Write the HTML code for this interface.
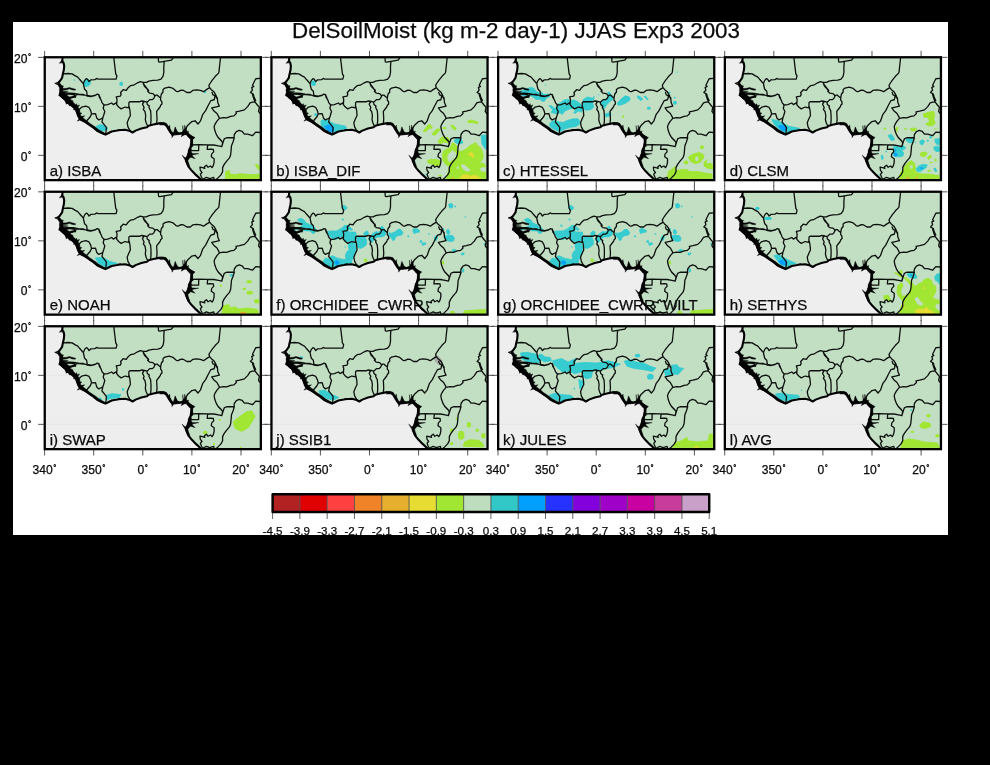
<!DOCTYPE html>
<html><head><meta charset="utf-8"><title>DelSoilMoist</title>
<style>
html,body{margin:0;padding:0;background:#000;}
body{width:990px;height:765px;overflow:hidden;position:relative;font-family:"Liberation Sans",sans-serif;}
#paper{position:absolute;left:13px;top:22px;width:935px;height:513px;background:#fff;overflow:hidden;}
svg{position:absolute;left:-13px;top:-22px;}
text{font-family:"Liberation Sans",sans-serif;fill:#0a0a0a;stroke:#0a0a0a;stroke-width:0.25px;}
.lab{font-size:15.0px;}
.tk{font-size:12.1px;}
.cb{font-size:11.6px;}
</style></head><body><div id="paper">
<svg width="990" height="765" viewBox="0 0 990 765" style="will-change:transform;opacity:0.999">
<defs>
<clipPath id="box"><rect x="0" y="0" width="216.1" height="122.9"/></clipPath>
<clipPath id="landclip"><path d="M17.89,-0.33 L17.64,2.1 L17.64,4.12 L18.78,5.49 L19.42,8.56 L19.1,12.6 L18.13,16.64 L17.32,20.68 L15.22,23.76 L13.77,25.37 L14.09,26.83 L14.9,28.28 L16.35,29.57 L17.48,31.35 L16.19,32.81 L16.51,34.58 L15.38,36.04 L15.06,37.33 L15.62,38.22 L18.05,40.48 L20.23,42.26 L21.85,44.93 L23.46,45.65 L26.53,47.92 L29.6,50.66 L31.22,52.28 L32.84,56.64 L34.45,60.52 L36.23,62.46 L40.27,64.56 L44.31,67.31 L48.35,70.22 L52.39,73.45 L56.43,75.55 L60.63,77.33 L62.9,76.2 L66.94,74.26 L70.98,73.45 L75.83,72.81 L73.1,72.97 L80.37,72.56 L85.22,73.78 L87.81,75.23 L90.88,73.37 L96.53,71.35 L102.19,70.06 L103.97,68.52 L108.65,67.31 L114.31,66.1 L119.16,66.1 L121.58,67.71 L124.01,71.35 L125.79,74.58 L127.24,76.85 L127.34,77.45 L128.96,76.64 L131.38,75.19 L134.61,76.4 L137.85,75.59 L140.27,73.82 L142.29,75.59 L145.12,78.42 L148.51,80.52 L147.22,81.65 L146.73,86.34 L145.93,90.38 L144.47,93.61 L143.99,96.85 L144.07,96.24 L143.26,98.42 L142.13,100.85 L141.48,103.92 L143.91,109.57 L147.14,113.61 L151.18,117.65 L155.62,121.69 L157.24,123.71 L157.24,125.9 L219.1,125.9 L219.1,-3 L17.89,-3Z"/></clipPath>
<path id="land" d="M17.89,-0.33 L17.64,2.1 L17.64,4.12 L18.78,5.49 L19.42,8.56 L19.1,12.6 L18.13,16.64 L17.32,20.68 L15.22,23.76 L13.77,25.37 L14.09,26.83 L14.9,28.28 L16.35,29.57 L17.48,31.35 L16.19,32.81 L16.51,34.58 L15.38,36.04 L15.06,37.33 L15.62,38.22 L18.05,40.48 L20.23,42.26 L21.85,44.93 L23.46,45.65 L26.53,47.92 L29.6,50.66 L31.22,52.28 L32.84,56.64 L34.45,60.52 L36.23,62.46 L40.27,64.56 L44.31,67.31 L48.35,70.22 L52.39,73.45 L56.43,75.55 L60.63,77.33 L62.9,76.2 L66.94,74.26 L70.98,73.45 L75.83,72.81 L73.1,72.97 L80.37,72.56 L85.22,73.78 L87.81,75.23 L90.88,73.37 L96.53,71.35 L102.19,70.06 L103.97,68.52 L108.65,67.31 L114.31,66.1 L119.16,66.1 L121.58,67.71 L124.01,71.35 L125.79,74.58 L127.24,76.85 L127.34,77.45 L128.96,76.64 L131.38,75.19 L134.61,76.4 L137.85,75.59 L140.27,73.82 L142.29,75.59 L145.12,78.42 L148.51,80.52 L147.22,81.65 L146.73,86.34 L145.93,90.38 L144.47,93.61 L143.99,96.85 L144.07,96.24 L143.26,98.42 L142.13,100.85 L141.48,103.92 L143.91,109.57 L147.14,113.61 L151.18,117.65 L155.62,121.69 L157.24,123.71 L157.24,125.9 L219.1,125.9 L219.1,-3 L17.89,-3Z"/>
<g id="lines" fill="none" stroke="#0c100c" stroke-linejoin="round" stroke-linecap="round"><path d="M18.13,16.64 L23.3,16.24 L27.34,16.64 L30.57,18.66 L33,19.88 L35.02,22.3 L37.85,25.53 L38.65,26.34 M38.65,26.34 L39.87,23.11 L41.48,21.49 L42.69,21.9 L44.31,24.32 L45.93,22.7 L49.97,22.3 L52.39,21.09 L53.2,21.9 L71.38,21.9 L72.19,18.66 L70.98,16.64 L70.01,8.56 L68.96,-0.33 M38.65,26.34 L39.06,28.77 L39.87,32 L41.89,34.02 L42.29,36.85 L42.69,38.87 M42.69,38.87 L45.93,39.27 L49.97,38.46 L52.39,36.85 L54.01,37.65 L55.62,40.89 L54.01,37.25 L54.82,40.48 L56.43,42.91 L57.24,45.33 L59.26,47.76 M42.69,38.87 L38.65,37.25 L33.81,36.85 L28.96,36.04 L22.49,35.63 L17,35.07 M22.49,35.8 L29.77,37.65 L30.57,40.08 L31.38,37.25 L30.57,39.67 L25.72,40.64 L22.49,42.91 M31.38,37.25 L34.61,37.41 L41.89,38.06 L46.73,38.87 L50.78,37.9 M33.81,52.77 L37.04,49.78 L41.08,48.97 L44.31,50.18 L45.93,53.41 L46.73,56.64 L45.52,59.47 L42.29,63.27 M46.73,56.64 L50.78,56.48 L51.99,60.68 L54.01,62.7 L56.43,61.49 L58.05,60.68 M58.05,60.68 L57.24,64.72 L59.66,67.55 L61.68,70.38 L61.28,74.42 L60.63,77.01 M58.05,60.68 L58.86,58.26 L60.07,54.22 L58.45,50.99 L59.26,47.76 M59.26,47.76 L62.9,47.35 L66.94,45.73 L68.55,47.35 L71.79,45.33 M71.89,47.35 L72.29,42.1 L71.48,39.67 L75.52,38.87 L76.33,37.25 L75.83,35.23 L78.25,32.81 L78.25,32.4 L81.48,33.21 L83.1,30.79 L85.93,28.36 L88.76,27.96 L92.8,25.53 L95.62,24.32 L98.45,25.13 M98.45,25.13 L101.68,25.13 L104.11,23.92 L108.15,23.11 L113,22.95 L116.23,21.9 L118.25,19.07 L119.06,15.03 L119.06,9.37 L119.46,4.12 M113.48,-0.33 L113.81,4.52 L115.02,4.93 L119.46,4.12 L126.73,2.91 L129,-0.33 M98.45,25.13 L99.66,28.36 L102.09,31.59 L103.95,33.61 L98.48,26.25 L99.69,29.08 L101.71,31.1 L103.73,32.71 L102.93,34.13 L104.95,35.95 L108.18,36.35 L109.39,37.56 L110.2,38.78 M110.2,38.78 L108.99,41.2 L107.37,42.41 L104.95,42.41 L103.33,44.03 L102.12,44.84 L99.69,44.23 L96.87,43.62 L95.25,44.43 M110.2,38.78 L111.41,37.77 L112.62,37.97 L114.24,39.58 L115.86,40.8 M115.86,40.8 L116.26,38.37 L116.66,36.76 L118.28,34.73 L118.28,32.31 L120.3,30.69 L120.27,30.79 L124.31,29.98 L128.35,31.19 L131.58,34.02 L133.2,34.42 L136.43,32.81 L138.86,33.21 L142.09,35.23 L145.52,35.23 L147.95,33.21 L151.99,32.56 L155.62,33.21 L158.86,34.42 L161.68,32.4 L164.51,30.62 M115.86,40.8 L115.86,42.82 L117.07,44.43 L117.27,46.86 L115.86,48.07 L115.52,49.37 L114.31,50.99 L111.89,54.22 L112.29,61.49 L111.89,66.34 M71.89,47.35 L73.91,49.78 L76.33,51.63 L80.37,49.78 L84.01,50.58 M84.01,50.58 L84.17,45.33 L85.22,44.52 L90.07,44.52 L94.92,44.52 L96.94,43.71 L98.96,44.93 M84.01,50.58 L84.41,49.37 L85.22,53.41 L85.62,58.26 L84.01,61.49 L82.39,65.53 L83.2,69.57 L85.22,73.37 M98.96,44.93 L97.74,46.95 L99.36,50.18 L98.55,52.2 L100.17,54.22 L100.98,58.26 L100.57,62.3 L101.38,65.53 L103,68.93 M102.12,44.84 L102.52,47.26 L104.54,48.88 L104.21,50.18 L105.83,53.41 L106.23,58.26 L106.23,63.92 L105.83,67.31 M175.83,-0.33 L175.02,6.95 L174.21,14.62 L173.81,15.84 L170.57,19.07 L167.34,23.11 L164.92,26.74 L164.11,28.36 L164.92,30.38 M164.92,30.38 L166.94,32.81 L169.36,34.83 L170.57,36.85 L171.38,38.46 L172.19,41.29 L172.59,40.48 L173,45.33 L174.61,48.97 L170.57,49.78 L166.94,50.58 L168.96,53.41 L172.19,56.24 L173.81,59.07 L174.61,61.09 M167.34,35.23 L168.15,37.65 L170.17,38.46 L169.77,41.29 L170.57,38.87 M140.67,72 L143.1,67.96 L147.14,64.32 L150.37,63.51 L153.2,66.74 L155.62,63.92 L158.05,57.05 L160.88,53.41 L163.3,48.56 L166.13,43.31 L169.36,42.5 L170.57,38.87 M215.18,21.09 L210.98,21.49 L209.36,24.72 L207.74,27.96 L208.96,29.17 L206.94,30.38 L207.74,32.81 L205.72,35.23 L208.55,36.85 L209.36,40.08 L210.98,43.23 L207.74,37.25 L208.96,41.29 L210.17,44.52 M174.61,61.09 L178.65,60.28 L181.89,60.68 L185.93,59.07 L189.16,58.66 L191.58,56.24 L191.18,54.62 L194.82,53.82 L199.66,52.6 L202.9,49.37 L205.32,45.73 L207.74,44.93 L210.17,44.52 M210.17,44.52 L212.59,47.76 L214.61,50.18 L213.81,54.22 L215.18,56 M174.61,61.09 L172.19,63.92 L170.17,67.15 L169.36,69.57 L170.17,73.61 L171.79,77.65 L173.81,80.89 L176.23,83.23 L173,79.67 L176.23,82.91 L177.85,85.33 L177.04,89.37 M215.18,75.23 L210.98,74.83 L207.74,78.46 L202.9,76.85 L199.66,76.85 L197.24,74.02 L194.41,73.21 L191.58,74.42 L189.56,77.25 L189.16,80.89 L189.56,80.48 M177.04,89.37 L178.25,85.33 L179.46,81.69 L181.89,80.48 L185.93,80.32 L189.56,80.48 M189.56,80.48 L188.35,84.52 L186.73,88.56 L186.33,93.41 L185.93,97.45 L184.71,100.68 L181.89,103.92 L179.46,107.15 L177.85,110.38 L177.85,114.42 L176.23,117.65 L173,120.89 L170.98,122.5 M146.33,87.76 L154.01,87.35 L162.9,87.59 L168.96,87.76 L173.81,88.56 L177.04,89.37 M154.01,87.35 L153.85,93.41 L146.33,93.41 M162.9,87.59 L162.49,92.2 L166.13,91.8 L168.55,92.2 L168.96,94.62 L166.94,96.64 L166.53,99.47 L169.36,101.49 L169.36,105.13 L168.55,108.36 L167.34,110.38 L165.72,108.77 L163.3,109.98 L161.68,107.96 L159.66,109.57 L160.07,111.19 L157.64,110.38 L155.22,109.98 L155.62,113.21 L157.24,115.23 L155.62,116.85 L156.43,119.27 L157.64,121.53 M158.86,121.53 L161.68,120.08 L164.92,121.29 L168.96,120.08 L169.36,121.86" stroke-width="1.3"/><path d="M17.89,-0.33 L17.64,2.1 L17.64,4.12 L18.78,5.49 L19.42,8.56 L19.1,12.6 L18.13,16.64 L17.32,20.68 L15.22,23.76 L13.77,25.37 L14.09,26.83 L14.9,28.28 L16.35,29.57 L17.48,31.35 L16.19,32.81 L16.51,34.58 L15.38,36.04 L15.06,37.33 L15.62,38.22 L18.05,40.48 L20.23,42.26 L21.85,44.93 L23.46,45.65 L26.53,47.92 L29.6,50.66 L31.22,52.28 L32.84,56.64 L34.45,60.52 L36.23,62.46 L40.27,64.56 L44.31,67.31 L48.35,70.22 L52.39,73.45 L56.43,75.55 L60.63,77.33 L62.9,76.2 L66.94,74.26 L70.98,73.45 L75.83,72.81 L73.1,72.97 L80.37,72.56 L85.22,73.78 L87.81,75.23 L90.88,73.37 L96.53,71.35 L102.19,70.06 L103.97,68.52 L108.65,67.31 L114.31,66.1 L119.16,66.1 L121.58,67.71 L124.01,71.35 L125.79,74.58 L127.24,76.85 L127.34,77.45 L128.96,76.64 L131.38,75.19 L134.61,76.4 L137.85,75.59 L140.27,73.82 L142.29,75.59 L145.12,78.42 L148.51,80.52 L147.22,81.65 L146.73,86.34 L145.93,90.38 L144.47,93.61 L143.99,96.85 L144.07,96.24 L143.26,98.42 L142.13,100.85 L141.48,103.92 L143.91,109.57 L147.14,113.61 L151.18,117.65 L155.62,121.69 L157.24,123.71" stroke-width="2.1" stroke="#000"/><path d="M10.32,26.25 L13.35,27.77 L14.87,30.8 L14.61,33.32 L15.12,36.35 L13.86,38.37 L16.38,39.38 L18.4,41.91 L20.42,42.92 L21.43,44.94 L21.18,46.96 L23.45,45.95 L24.46,48.47 L27.49,48.47 L29.51,51 L28.76,52.77 L31.03,52.51 L30.91,53.3 L31.92,56.33 L32.93,59.36 L34.44,61.38 L32.42,63.91 L35.45,62.64 L38.99,64.41 L42.52,66.43 L45.55,68.96 L48.58,70.47 L51.61,73.5 L55.65,75.52 L59.19,77.24 L60.45,76.33 L58.48,75.02 L53.94,72.49 L50.96,70.02 L47.93,68 L44.9,65.98 L42.78,64.01 L40,61.89 L37.98,60.37 L40,58.6 L36.97,59.11 L35.45,57.85 L36.97,55.83 L34.95,55.32 L35.2,53.3 L33.94,52.29 L32.93,49.77 L34.56,52.51 L33.05,50.49 L34.82,47.71 L32.29,48.47 L32.04,46.45 L30.78,47.46 L29.51,45.95 L28.5,44.94 L28,43.42 L25.98,42.41 L25.47,41.15 L27.49,40.64 L29.51,39.89 L30.02,38.37 L27.49,38.88 L24.97,39.63 L22.44,38.62 L22.44,37.61 L26.99,37.11 L30.52,36.7 L30.52,36.1 L23.45,36.35 L20.42,36.1 L17.9,35.34 L17.39,34.58 L23.45,34.33 L18.4,33.83 L17.9,33.07 L22.44,32.56 L24.46,31.55 L27.49,32.71 L30.52,32.97 L30.93,32.06 L28,31.2 L24.46,30.19 L21.94,31.05 L18.4,31.3 L17.9,29.79 L18.91,28.78 L16.89,28.27 L15.37,26.25Z M115.25,67.83 L119.29,67.83 L121.31,69.34 L123.33,72.88 L125.35,75.91 L127.37,77.93 L127.12,80.45 L128.89,77.93 L131.92,77.67 L134.95,77.17 L137.47,76.92 L136.46,79.44 L139.49,77.67 L141.51,77.42 L142.52,78.94 L144.54,80.45 L146.06,82.47 L146.06,89.24 L148.08,89.24 L147.83,82.47 L147.57,80.96 L150.1,80.45 L147.57,78.94 L145.05,77.42 L142.78,76.41 L144.04,73.89 L142.02,74.39 L141.51,69.34 L140.76,72.37 L140,67.83 L139.74,72.12 L138.48,72.88 L137.98,68.33 L138.23,73.89 L136.97,75.4 L134.95,75.65 L132.93,74.9 L131.66,72.37 L130.4,69.59 L129.39,73.38 L128.63,75.4 L126.87,74.39 L125.35,71.36 L124.85,67.83 L123.84,69.85 L122.32,67.32 L121.31,65.81 L118.28,65.55 L115.25,65.3Z M143.89,80.25 L145.91,82.27 L145.91,85.3 L145.15,89.34 L143.63,92.37 L143.13,95.4 L142.37,97.93 L141.61,99.95 L140.35,100.45 L137.32,97.93 L139.85,101.97 L141.36,105.5 L142.88,109.24 L145.15,109.24 L143.89,106.01 L143.13,102.98 L144.9,100.96 L145.91,99.95 L150.45,101.46 L147.93,98.94 L147.42,97.67 L153.99,96.41 L147.42,96.16 L146.41,94.39 L146.92,92.88 L145.91,90.35 L147.17,88.33 L147.67,85.3 L147.93,82.27 L149.95,80.25Z M14.73,5.82 L17,3.07 L18.61,5.33Z M10.37,25.94 L13.77,24.56 L14.25,27.15Z" fill="#000" stroke="#000" stroke-width="0.4" stroke-linejoin="miter"/></g>
</defs>
<text x="516" y="37.7" text-anchor="middle" style="font-size:22.4px" id="title">DelSoilMoist (kg m-2 day-1) JJAS Exp3 2003</text>
<g transform="translate(44.75,57.25)">
<path d="M-0.15,-6.3V0 M-0.15,122.9V129.20000000000002 M48.95,-6.3V0 M48.95,122.9V129.20000000000002 M98.05,-6.3V0 M98.05,122.9V129.20000000000002 M147.15,-6.3V0 M147.15,122.9V129.20000000000002 M196.25,-6.3V0 M196.25,122.9V129.20000000000002 M-6.6,0.1H0 M216.1,0.1H222.7 M-6.6,49.1H0 M216.1,49.1H222.7 M-6.6,98.1H0 M216.1,98.1H222.7" stroke="#444" stroke-width="0.9" fill="none"/>
<rect x="0" y="0" width="216.1" height="122.9" fill="#EEEEEE"/>
<g clip-path="url(#box)">
<use href="#land" fill="#C2DFC4"/>
<g clip-path="url(#landclip)">
<path d="M38.14,25.97 L40.92,22.64 L43.14,21.86 L45.36,23.75 L45.69,26.53 L43.69,28.75 L40.36,29.31Z" fill="#36CCD0" stroke="#36CCD0" stroke-width="0.8" stroke-linejoin="round"/>
<ellipse cx="76.47" cy="26.64" rx="1.89" ry="2.11" fill="#36CCD0"/>
<ellipse cx="29.69" cy="22.86" rx="0.67" ry="0.78" fill="#36CCD0"/>
<path d="M51.47,69.19 L54.81,67.31 L59.25,68.08 L62.58,69.75 L62.81,71.97 L59.81,73.64 L55.92,73.64 L52.58,71.42Z" fill="#36CCD0" stroke="#36CCD0" stroke-width="0.8" stroke-linejoin="round"/>
<ellipse cx="160.03" cy="34.69" rx="1.44" ry="1.28" fill="#36CCD0"/>
<path d="M180.58,121.42 L181.14,114.19 L184.47,113.08 L185.03,116.42 L189.47,117.53 L195.03,116.42 L201.69,116.97 L207.25,117.53 L215.03,116.64 L215.03,121.42Z" fill="#A0E632" stroke="#A0E632" stroke-width="0.8" stroke-linejoin="round"/>
<path d="M210.58,107.53 L212.81,107.31 L215.03,109.19 L215.03,112.53 L212.81,111.42Z" fill="#A0E632" stroke="#A0E632" stroke-width="0.8" stroke-linejoin="round"/>
</g>
<text class="lab" x="4.9" y="118.6">a) ISBA</text>
<use href="#lines"/>
</g>
<rect x="0" y="0" width="216.1" height="122.9" fill="none" stroke="#000" stroke-width="2.3"/>
</g>
<g transform="translate(271.45,57.25)">
<path d="M-0.15,-6.3V0 M-0.15,122.9V129.20000000000002 M48.95,-6.3V0 M48.95,122.9V129.20000000000002 M98.05,-6.3V0 M98.05,122.9V129.20000000000002 M147.15,-6.3V0 M147.15,122.9V129.20000000000002 M196.25,-6.3V0 M196.25,122.9V129.20000000000002 M-6.6,0.1H0 M216.1,0.1H222.7 M-6.6,49.1H0 M216.1,49.1H222.7 M-6.6,98.1H0 M216.1,98.1H222.7" stroke="#444" stroke-width="0.9" fill="none"/>
<rect x="0" y="0" width="216.1" height="122.9" fill="#EEEEEE"/>
<g clip-path="url(#box)">
<use href="#land" fill="#C2DFC4"/>
<g clip-path="url(#landclip)">
<ellipse cx="42.11" cy="26.08" rx="2.44" ry="2.78" fill="#36CCD0"/>
<ellipse cx="44.11" cy="57.42" rx="1.56" ry="1.44" fill="#36CCD0"/>
<path d="M49.66,63.31 L54.11,62.19 L62.99,66.64 L74.11,68.86 L75.22,71.53 L67.44,72.86 L61.88,75.53 L54.11,73.31 L49.66,67.75Z" fill="#36CCD0" stroke="#36CCD0" stroke-width="0.8" stroke-linejoin="round"/>
<path d="M52.99,69.31 L56.77,67.75 L61.88,69.97 L61.88,74.42 L56.77,73.75Z" fill="#00A0FF" stroke="#00A0FF" stroke-width="0.8" stroke-linejoin="round"/>
<path d="M151.73,73.93 L156.43,67.81 L158.79,67.34 L161.14,70.63 L157.37,71.57 L153.61,74.87Z" fill="#A0E632" stroke="#A0E632" stroke-width="0.8" stroke-linejoin="round"/>
<path d="M160.67,76.28 L163.02,73.93 L165.84,71.57 L168.67,72.04 L166.79,74.87 L163.96,77.69 L161.14,77.69Z" fill="#A0E632" stroke="#A0E632" stroke-width="0.8" stroke-linejoin="round"/>
<ellipse cx="173.14" cy="70.87" rx="2.12" ry="1.18" fill="#A0E632"/>
<path d="M179.49,67.81 L181.84,68.28 L184.67,71.1 L183.73,72.99 L180.9,71.1Z" fill="#A0E632" stroke="#A0E632" stroke-width="0.8" stroke-linejoin="round"/>
<path d="M195.96,64.04 L199.73,62.63 L204.43,64.04 L206.79,64.99 L206.31,66.4 L201.61,65.46 L196.9,65.46Z" fill="#A0E632" stroke="#A0E632" stroke-width="0.8" stroke-linejoin="round"/>
<path d="M166.31,84.75 L168.67,81.46 L171.02,79.57 L173.37,80.51 L176.2,80.04 L178.08,82.87 L176.2,85.69 L172.43,84.75 L168.67,86.63Z" fill="#A0E632" stroke="#A0E632" stroke-width="0.8" stroke-linejoin="round"/>
<path d="M155.96,103.57 L158.31,102.16 L165.84,102.16 L168.67,103.57 L168.67,107.34 L166.79,109.22 L163.96,108.28 L160.2,106.87 L156.9,105.93Z" fill="#A0E632" stroke="#A0E632" stroke-width="0.8" stroke-linejoin="round"/>
<ellipse cx="168.67" cy="118.35" rx="1.88" ry="0.85" fill="#A0E632"/>
<path d="M174.31,121.46 L176.2,116.75 L178.08,109.22 L174.31,107.34 L171.49,103.57 L171.02,96.99 L172.43,93.22 L176.2,91.34 L179.02,90.4 L179.96,86.63 L182.79,85.69 L185.61,89.46 L186.08,92.28 L187.49,94.16 L191.26,93.69 L195.02,91.34 L199.73,87.57 L204.43,85.22 L206.31,88.51 L209.14,90.4 L211.02,94.16 L211.96,99.81 L210.08,103.57 L208.2,105.46 L212.9,106.4 L214.31,109.22 L214.31,121.46Z" fill="#A0E632" stroke="#A0E632" stroke-width="0.8" stroke-linejoin="round"/>
<path d="M176.2,99.81 L177.14,96.99 L180.9,93.22 L184.67,96.04 L184.2,99.81 L179.96,103.57 L177.14,104.04Z" fill="#C2DFC4" stroke="#C2DFC4" stroke-width="0.8" stroke-linejoin="round"/>
<path d="M189.84,107.81 L192.2,107.34 L195.96,110.16 L198.79,112.99 L195.02,113.93 L191.26,111.1Z" fill="#C2DFC4" stroke="#C2DFC4" stroke-width="0.8" stroke-linejoin="round"/>
<ellipse cx="186.31" cy="110.4" rx="1.18" ry="1.18" fill="#C2DFC4"/>
<path d="M208.67,111.1 L214.31,110.16 L214.31,113.93 L210.08,113.93Z" fill="#C2DFC4" stroke="#C2DFC4" stroke-width="0.8" stroke-linejoin="round"/>
<path d="M196.9,96.04 L200.67,95.57 L202.08,97.93 L201.61,100.75 L200.2,98.87 L197.37,97.46Z" fill="#E6DC32" stroke="#E6DC32" stroke-width="0.8" stroke-linejoin="round"/>
<path d="M187.96,121.46 L191.26,117.69 L195.02,117.22 L199.73,119.1 L203.49,117.69 L207.26,120.04 L210.08,121.46Z" fill="#E6DC32" stroke="#E6DC32" stroke-width="0.8" stroke-linejoin="round"/>
<ellipse cx="181.37" cy="120.99" rx="1.41" ry="0.66" fill="#E6AF2D"/>
<path d="M182.79,82.87 L185.61,81.46 L189.84,81.93 L191.26,84.75 L190.79,86.16 L185.61,86.16 L183.26,84.75Z" fill="#36CCD0" stroke="#36CCD0" stroke-width="0.8" stroke-linejoin="round"/>
<path d="M209.61,78.16 L214.79,77.69 L214.79,92.28 L212.9,90.4 L210.55,86.63 L210.08,81.93Z" fill="#36CCD0" stroke="#36CCD0" stroke-width="0.8" stroke-linejoin="round"/>
<ellipse cx="155.02" cy="117.46" rx="0.94" ry="0.71" fill="#36CCD0"/>
</g>
<text class="lab" x="4.9" y="118.6">b) ISBA_DIF</text>
<use href="#lines"/>
</g>
<rect x="0" y="0" width="216.1" height="122.9" fill="none" stroke="#000" stroke-width="2.3"/>
</g>
<g transform="translate(498.15,57.25)">
<path d="M-0.15,-6.3V0 M-0.15,122.9V129.20000000000002 M48.95,-6.3V0 M48.95,122.9V129.20000000000002 M98.05,-6.3V0 M98.05,122.9V129.20000000000002 M147.15,-6.3V0 M147.15,122.9V129.20000000000002 M196.25,-6.3V0 M196.25,122.9V129.20000000000002 M-6.6,0.1H0 M216.1,0.1H222.7 M-6.6,49.1H0 M216.1,49.1H222.7 M-6.6,98.1H0 M216.1,98.1H222.7" stroke="#444" stroke-width="0.9" fill="none"/>
<rect x="0" y="0" width="216.1" height="122.9" fill="#EEEEEE"/>
<g clip-path="url(#box)">
<use href="#land" fill="#C2DFC4"/>
<g clip-path="url(#landclip)">
<path d="M22.76,33.66 L28.82,31.84 L32.46,30.02 L36.09,31.23 L37.91,34.27 L41.55,35.48 L43.37,34.87 L45.79,37.3 L50.64,36.69 L51.85,39.11 L48.21,40.93 L46.4,43.96 L43.97,43.96 L41.55,42.14 L37.91,42.14 L34.88,39.72 L31.85,37.9 L31.24,39.72 L27.61,39.11 L23.37,37.9Z" fill="#36CCD0" stroke="#36CCD0" stroke-width="0.8" stroke-linejoin="round"/>
<ellipse cx="47.06" cy="27.78" rx="0.67" ry="0.79" fill="#36CCD0"/>
<path d="M50.64,48.2 L53.67,48.81 L56.7,51.23 L58.52,50.02 L59.73,46.99 L62.76,45.17 L65.79,42.75 L70.03,42.14 L71.85,43.36 L76.09,42.75 L79.73,44.57 L83.37,47.6 L84.58,51.23 L83.37,54.87 L80.33,53.66 L77.3,56.08 L75.49,55.48 L77.91,51.84 L74.88,51.23 L71.24,51.84 L67,53.66 L63.97,57.3 L61.55,55.48 L59.73,56.69 L56.7,56.08 L53.06,55.48 L54.27,52.45Z" fill="#36CCD0" stroke="#36CCD0" stroke-width="0.8" stroke-linejoin="round"/>
<path d="M85.18,42.14 L89.43,39.72 L94.27,40.93 L96.09,39.11 L95.49,42.75 L94.27,44.57 L95.49,50.02 L92.46,52.45 L87.61,53.05 L85.18,51.23 L84.58,45.78Z" fill="#36CCD0" stroke="#36CCD0" stroke-width="0.8" stroke-linejoin="round"/>
<path d="M102.15,45.17 L105.18,42.75 L108.82,40.93 L110.64,38.51 L109.43,35.48 L111.24,34.87 L113.67,38.51 L114.88,42.14 L113.06,43.36 L110.64,45.17 L107.61,48.81 L105.79,51.84 L103.97,48.81Z" fill="#36CCD0" stroke="#36CCD0" stroke-width="0.8" stroke-linejoin="round"/>
<path d="M107,56.69 L112.46,55.23 L112.46,58.51 L107.61,59.72Z" fill="#36CCD0" stroke="#36CCD0" stroke-width="0.8" stroke-linejoin="round"/>
<path d="M119.73,45.78 L123.37,42.14 L127,39.11 L131.24,39.72 L131.85,42.75 L128.21,44.57 L124.58,46.99 L120.33,47.96Z" fill="#36CCD0" stroke="#36CCD0" stroke-width="0.8" stroke-linejoin="round"/>
<path d="M51.24,66.99 L53.67,63.96 L57.3,63.36 L59.73,64.57 L65.18,65.17 L68.82,63.36 L74.88,61.54 L79.73,61.54 L81.55,63.96 L80.94,67.6 L77.3,69.42 L72.46,70.02 L66.4,71.84 L62.76,74.27 L59.73,73.66 L55.49,71.84 L52.46,70.02Z" fill="#36CCD0" stroke="#36CCD0" stroke-width="0.8" stroke-linejoin="round"/>
<ellipse cx="49.12" cy="61.54" rx="0.91" ry="1.21" fill="#7FD6D0"/>
<ellipse cx="100.64" cy="37.48" rx="0.91" ry="0.79" fill="#7FD6D0"/>
<ellipse cx="125.18" cy="59.11" rx="0.85" ry="0.97" fill="#A0E632"/>
<path d="M119.02,45.79 L123.01,41.81 L126.99,38.62 L130.98,40.21 L131.78,42.61 L127.79,45.79 L123.01,47.39 L119.82,47.71Z" fill="#36CCD0" stroke="#36CCD0" stroke-width="0.8" stroke-linejoin="round"/>
<path d="M138.95,38.62 L142.14,39.42 L144.53,41.81 L142.94,43.4 L139.75,41.01Z" fill="#36CCD0" stroke="#36CCD0" stroke-width="0.8" stroke-linejoin="round"/>
<path d="M145.65,39.1 L147.24,38.78 L150.11,41.97 L149.15,42.61Z" fill="#36CCD0" stroke="#36CCD0" stroke-width="0.8" stroke-linejoin="round"/>
<ellipse cx="150.67" cy="50.89" rx="1.83" ry="1.59" fill="#36CCD0"/>
<ellipse cx="176.81" cy="45.39" rx="1.99" ry="1.99" fill="#36CCD0"/>
<ellipse cx="171.23" cy="35.27" rx="1.2" ry="0.96" fill="#36CCD0"/>
<ellipse cx="176.57" cy="40.37" rx="0.96" ry="0.96" fill="#36CCD0"/>
<ellipse cx="178.81" cy="14.87" rx="0.8" ry="0.64" fill="#36CCD0"/>
<ellipse cx="125.0" cy="59.34" rx="1.2" ry="1.12" fill="#A0E632"/>
<path d="M189.97,100 L194.75,96.81 L201.13,95.21 L205.91,97.61 L205.11,101.59 L201.13,105.58 L196.34,106.37 L192.36,103.98Z" fill="#A0E632" stroke="#A0E632" stroke-width="0.8" stroke-linejoin="round"/>
<ellipse cx="198.73" cy="101.59" rx="1.59" ry="2.39" fill="#C2DFC4"/>
<ellipse cx="187.89" cy="105.18" rx="2.39" ry="1.99" fill="#A0E632"/>
<ellipse cx="203.92" cy="90.03" rx="1.99" ry="1.99" fill="#A0E632"/>
<path d="M205.91,104.78 L209.1,102.39 L207.5,106.37 L213.88,106.37 L214.68,111.95 L209.89,111.16 L205.91,108.76Z" fill="#A0E632" stroke="#A0E632" stroke-width="0.8" stroke-linejoin="round"/>
<path d="M169.24,121.52 L170.04,114.34 L174.82,111.16 L177.21,108.76 L177.21,114.34 L180.4,112.75 L188.37,111.95 L191.56,114.34 L199.53,114.34 L207.5,115.94 L213.88,116.74 L213.88,121.52Z" fill="#A0E632" stroke="#A0E632" stroke-width="0.8" stroke-linejoin="round"/>
</g>
<text class="lab" x="4.9" y="118.6">c) HTESSEL</text>
<use href="#lines"/>
</g>
<rect x="0" y="0" width="216.1" height="122.9" fill="none" stroke="#000" stroke-width="2.3"/>
</g>
<g transform="translate(724.85,57.25)">
<path d="M-0.15,-6.3V0 M-0.15,122.9V129.20000000000002 M48.95,-6.3V0 M48.95,122.9V129.20000000000002 M98.05,-6.3V0 M98.05,122.9V129.20000000000002 M147.15,-6.3V0 M147.15,122.9V129.20000000000002 M196.25,-6.3V0 M196.25,122.9V129.20000000000002 M-6.6,0.1H0 M216.1,0.1H222.7 M-6.6,49.1H0 M216.1,49.1H222.7 M-6.6,98.1H0 M216.1,98.1H222.7" stroke="#444" stroke-width="0.9" fill="none"/>
<rect x="0" y="0" width="216.1" height="122.9" fill="#EEEEEE"/>
<g clip-path="url(#box)">
<use href="#land" fill="#C2DFC4"/>
<g clip-path="url(#landclip)">
<path d="M46.93,62.19 L52.48,63.31 L63.59,68.86 L74.71,71.08 L70.26,74.42 L61.37,75.97 L54.71,72.19 L49.15,66.64Z" fill="#36CCD0" stroke="#36CCD0" stroke-width="0.8" stroke-linejoin="round"/>
<path d="M53.59,68.86 L57.37,67.75 L61.82,69.97 L61.37,73.75 L56.48,72.86Z" fill="#00A0FF" stroke="#00A0FF" stroke-width="0.8" stroke-linejoin="round"/>
<path d="M198.13,56.69 L203.49,55.08 L208.86,54.01 L209.93,57.76 L208.86,62.05 L210.46,65.81 L207.78,68.49 L203.49,68.49 L200.81,66.88 L204.57,64.2 L203.49,60.44 L199.2,59.91Z" fill="#A0E632" stroke="#A0E632" stroke-width="0.8" stroke-linejoin="round"/>
<path d="M185.26,71.7 L189.55,70.63 L192.23,71.7 L190.62,73.31 L186.87,73.85Z" fill="#A0E632" stroke="#A0E632" stroke-width="0.8" stroke-linejoin="round"/>
<ellipse cx="180.7" cy="71.7" rx="1.34" ry="0.86" fill="#A0E632"/>
<ellipse cx="160.06" cy="71.33" rx="1.61" ry="0.91" fill="#A0E632"/>
<path d="M171.11,70.42 L173.25,70.1 L172.61,73.31 L171.32,74.39Z" fill="#A0E632" stroke="#A0E632" stroke-width="0.8" stroke-linejoin="round"/>
<ellipse cx="210.73" cy="71.54" rx="2.41" ry="0.7" fill="#B4E27A"/>
<path d="M195.45,95.83 L199.2,94.76 L202.42,95.83 L200.81,98.51 L197.6,99.59 L195.45,97.98Z" fill="#A0E632" stroke="#A0E632" stroke-width="0.8" stroke-linejoin="round"/>
<path d="M202.42,100.12 L205.64,97.98 L206.71,99.59 L204.03,102.27Z" fill="#A0E632" stroke="#A0E632" stroke-width="0.8" stroke-linejoin="round"/>
<ellipse cx="210.73" cy="102.8" rx="1.34" ry="1.61" fill="#A0E632"/>
<ellipse cx="206.17" cy="105.22" rx="1.61" ry="0.8" fill="#A0E632"/>
<ellipse cx="204.3" cy="113.53" rx="1.88" ry="1.07" fill="#A0E632"/>
<path d="M173.47,121.57 L175.07,116.74 L177.76,112.46 L180.44,108.17 L184.19,104.41 L186.87,103.34 L189.55,106.02 L190.62,110.31 L190.09,113.53 L192.77,115.67 L197.06,116.74 L203.49,116.74 L209.93,117.82 L214.75,118.35 L214.75,121.57Z" fill="#A0E632" stroke="#A0E632" stroke-width="0.8" stroke-linejoin="round"/>
<ellipse cx="186.33" cy="109.51" rx="1.61" ry="1.88" fill="#C2DFC4"/>
<ellipse cx="182.85" cy="120.61" rx="1.34" ry="1.18" fill="#E6AF2D"/>
<ellipse cx="191.7" cy="120.61" rx="1.07" ry="1.18" fill="#E6AF2D"/>
<path d="M163.28,78.14 L166.5,77.07 L168.64,79.75 L169.71,82.43 L167.03,83.5 L164.89,81.36Z" fill="#36CCD0" stroke="#36CCD0" stroke-width="0.8" stroke-linejoin="round"/>
<path d="M180.97,81.89 L184.19,81.36 L189.02,81.57 L187.94,85.11 L184.73,85.65 L182.05,84.04Z" fill="#36CCD0" stroke="#36CCD0" stroke-width="0.8" stroke-linejoin="round"/>
<path d="M168.1,89.93 L171.32,88.86 L175.61,88.86 L178.29,88.33 L180.97,90.47 L178.83,92.62 L176.15,93.15 L178.83,95.3 L178.29,98.51 L175.61,99.59 L171.86,99.59 L168.64,98.51 L167.57,95.83 L169.71,93.15Z" fill="#36CCD0" stroke="#36CCD0" stroke-width="0.8" stroke-linejoin="round"/>
<path d="M169.18,96.37 L171.32,95.83 L172.39,97.98 L170.25,99.05Z" fill="#00A0FF" stroke="#00A0FF" stroke-width="0.8" stroke-linejoin="round"/>
<ellipse cx="170.68" cy="93.15" rx="0.64" ry="1.07" fill="#00A0FF"/>
<path d="M156.31,97.98 L157.92,98.51 L158.45,101.2 L156.84,102.27Z" fill="#36CCD0" stroke="#36CCD0" stroke-width="0.8" stroke-linejoin="round"/>
<ellipse cx="161.4" cy="94.22" rx="0.8" ry="1.07" fill="#36CCD0"/>
<ellipse cx="152.55" cy="95.57" rx="1.07" ry="0.8" fill="#7FD6D0"/>
<path d="M194.91,84.04 L197.6,82.43 L199.74,84.04 L197.6,87.79 L195.45,86.72Z" fill="#36CCD0" stroke="#36CCD0" stroke-width="0.8" stroke-linejoin="round"/>
<ellipse cx="190.62" cy="85.11" rx="1.07" ry="1.07" fill="#7FD6D0"/>
<ellipse cx="202.96" cy="83.5" rx="1.07" ry="1.07" fill="#36CCD0"/>
<ellipse cx="205.91" cy="80.02" rx="1.34" ry="1.34" fill="#36CCD0"/>
<path d="M209.93,81.89 L214.75,81.36 L214.75,87.79 L212.07,87.25 L210.46,85.11Z" fill="#36CCD0" stroke="#36CCD0" stroke-width="0.8" stroke-linejoin="round"/>
<path d="M208.86,89.93 L212.07,88.86 L214.75,89.93 L214.75,94.22 L211,94.22 L209.39,92.62Z" fill="#36CCD0" stroke="#36CCD0" stroke-width="0.8" stroke-linejoin="round"/>
<path d="M191.16,111.38 L193.84,108.7 L198.13,107.09 L202.42,107.63 L201.35,110.31 L198.13,112.46 L194.91,114.6 L192.23,114.06Z" fill="#36CCD0" stroke="#36CCD0" stroke-width="0.8" stroke-linejoin="round"/>
<ellipse cx="196.79" cy="110.85" rx="1.34" ry="1.07" fill="#00A0FF"/>
<path d="M208.86,111.38 L210.46,110.85 L212.07,114.06 L210.79,114.6Z" fill="#36CCD0" stroke="#36CCD0" stroke-width="0.8" stroke-linejoin="round"/>
<ellipse cx="154.97" cy="117.55" rx="0.8" ry="0.8" fill="#36CCD0"/>
</g>
<text class="lab" x="4.9" y="118.6">d) CLSM</text>
<use href="#lines"/>
</g>
<rect x="0" y="0" width="216.1" height="122.9" fill="none" stroke="#000" stroke-width="2.3"/>
</g>
<g transform="translate(44.75,191.75)">
<path d="M-0.15,-6.3V0 M-0.15,122.9V129.20000000000002 M48.95,-6.3V0 M48.95,122.9V129.20000000000002 M98.05,-6.3V0 M98.05,122.9V129.20000000000002 M147.15,-6.3V0 M147.15,122.9V129.20000000000002 M196.25,-6.3V0 M196.25,122.9V129.20000000000002 M-6.6,0.1H0 M216.1,0.1H222.7 M-6.6,49.1H0 M216.1,49.1H222.7 M-6.6,98.1H0 M216.1,98.1H222.7" stroke="#444" stroke-width="0.9" fill="none"/>
<rect x="0" y="0" width="216.1" height="122.9" fill="#EEEEEE"/>
<g clip-path="url(#box)">
<use href="#land" fill="#C2DFC4"/>
<g clip-path="url(#landclip)">
<path d="M50.47,66.14 L58.25,65.69 L64.92,69.47 L72.69,71.69 L67.14,72.81 L61.58,75.47 L53.81,71.69Z" fill="#36CCD0" stroke="#36CCD0" stroke-width="0.8" stroke-linejoin="round"/>
<ellipse cx="186.92" cy="83.58" rx="2.0" ry="1.44" fill="#36CCD0"/>
<ellipse cx="204.36" cy="90.03" rx="2.78" ry="1.67" fill="#A0E632"/>
<ellipse cx="199.36" cy="97.25" rx="2.22" ry="1.11" fill="#A0E632"/>
<ellipse cx="204.92" cy="100.92" rx="3.33" ry="1.89" fill="#A0E632"/>
<ellipse cx="212.14" cy="109.47" rx="2.78" ry="2.22" fill="#A0E632"/>
<ellipse cx="176.03" cy="93.92" rx="1.11" ry="1.11" fill="#A0E632"/>
<path d="M177.14,121.69 L178.69,113.92 L183.81,112.81 L186.03,116.14 L190.47,115.03 L193.81,117.25 L202.69,116.14 L212.69,117.69 L213.81,121.69Z" fill="#A0E632" stroke="#A0E632" stroke-width="0.8" stroke-linejoin="round"/>
<ellipse cx="198.25" cy="121.03" rx="3.33" ry="1.11" fill="#E6AF2D"/>
</g>
<text class="lab" x="4.9" y="118.6">e) NOAH</text>
<use href="#lines"/>
</g>
<rect x="0" y="0" width="216.1" height="122.9" fill="none" stroke="#000" stroke-width="2.3"/>
</g>
<g transform="translate(271.45,191.75)">
<path d="M-0.15,-6.3V0 M-0.15,122.9V129.20000000000002 M48.95,-6.3V0 M48.95,122.9V129.20000000000002 M98.05,-6.3V0 M98.05,122.9V129.20000000000002 M147.15,-6.3V0 M147.15,122.9V129.20000000000002 M196.25,-6.3V0 M196.25,122.9V129.20000000000002 M-6.6,0.1H0 M216.1,0.1H222.7 M-6.6,49.1H0 M216.1,49.1H222.7 M-6.6,98.1H0 M216.1,98.1H222.7" stroke="#444" stroke-width="0.9" fill="none"/>
<rect x="0" y="0" width="216.1" height="122.9" fill="#EEEEEE"/>
<g clip-path="url(#box)">
<use href="#land" fill="#C2DFC4"/>
<g clip-path="url(#landclip)">
<path d="M70.34,14.31 L73.37,13.7 L75.79,16.13 L73.37,18.55 L70.94,16.73Z" fill="#36CCD0" stroke="#36CCD0" stroke-width="0.8" stroke-linejoin="round"/>
<ellipse cx="71.37" cy="27.77" rx="1.03" ry="1.09" fill="#36CCD0"/>
<path d="M26.1,27.64 L29.73,26.43 L32.76,28.25 L33.97,30.67 L37.61,32.49 L41.25,34.31 L43.07,35.52 L44.88,37.95 L43.07,41.58 L40.64,41.58 L38.82,39.16 L35.19,39.16 L31.55,38.55 L29.73,36.73 L26.1,37.34 L23.07,38.55 L22.46,36.73 L27.31,35.52 L31.55,34.31 L29.73,31.28 L27.31,29.46Z" fill="#36CCD0" stroke="#36CCD0" stroke-width="0.8" stroke-linejoin="round"/>
<path d="M55.19,39.77 L60.03,39.16 L64.88,39.16 L69.73,36.73 L73.37,33.7 L76.4,33.7 L78.82,35.52 L81.25,37.95 L79.43,38.55 L77.61,37.34 L75.79,39.77 L79.43,40.37 L84.28,40.37 L84.88,44.61 L84.28,48.86 L80.64,50.07 L77,50.07 L73.97,49.46 L72.16,47.04 L70.34,44.61 L68.52,45.83 L64.88,47.64 L61.25,47.04 L58.22,44.61 L56.4,42.19Z" fill="#36CCD0" stroke="#36CCD0" stroke-width="0.8" stroke-linejoin="round"/>
<path d="M77,51.28 L79.43,50.07 L83.07,51.28 L84.28,54.92 L84.88,59.16 L83.07,62.8 L81.85,67.04 L79.43,68.25 L74.58,68.25 L73.97,63.4 L75.19,60.37 L77.61,57.95 L77,54.92Z" fill="#36CCD0" stroke="#36CCD0" stroke-width="0.8" stroke-linejoin="round"/>
<ellipse cx="73.67" cy="55.22" rx="0.91" ry="0.91" fill="#7FD6D0"/>
<path d="M85.49,45.83 L89.13,45.22 L93.97,45.83 L95.19,48.86 L95.19,52.49 L92.76,54.92 L89.13,56.73 L86.7,56.13 L85.49,51.89Z" fill="#36CCD0" stroke="#36CCD0" stroke-width="0.8" stroke-linejoin="round"/>
<path d="M92.16,41.58 L95.19,39.16 L97,40.37 L96.4,43.4 L93.37,44.01Z" fill="#36CCD0" stroke="#36CCD0" stroke-width="0.8" stroke-linejoin="round"/>
<path d="M97,47.04 L99.43,43.4 L102.46,40.98 L104.88,39.77 L107.31,40.37 L109.73,38.55 L109.13,35.52 L110.94,34.31 L113.37,37.34 L114.58,40.98 L113.37,44.01 L109.73,45.22 L106.1,45.22 L103.07,47.04 L101.25,50.07 L98.82,50.67Z" fill="#36CCD0" stroke="#36CCD0" stroke-width="0.8" stroke-linejoin="round"/>
<path d="M117,40.98 L120.03,41.58 L123.67,40.37 L126.1,37.95 L128.52,37.34 L130.94,40.37 L129.73,42.8 L126.1,43.4 L123.67,45.83 L121.25,48.86 L120.03,46.43 L118.22,44.61Z" fill="#36CCD0" stroke="#36CCD0" stroke-width="0.8" stroke-linejoin="round"/>
<path d="M51.55,69.46 L53.97,66.43 L57.61,67.04 L60.03,64.01 L62.46,64.61 L66.1,66.43 L72.16,67.64 L77,67.64 L80.64,68.86 L80.03,71.28 L74.58,71.89 L68.52,73.1 L62.46,75.52 L58.82,74.92 L54.58,73.1Z" fill="#36CCD0" stroke="#36CCD0" stroke-width="0.8" stroke-linejoin="round"/>
<path d="M63.67,69.46 L66.1,68.86 L67.91,71.28 L65.49,73.1 L63.67,71.89Z" fill="#00A0FF" stroke="#00A0FF" stroke-width="0.8" stroke-linejoin="round"/>
<path d="M92.52,67.4 L95.19,67.4 L95.79,69.46 L93.37,70.07Z" fill="#A0E632" stroke="#A0E632" stroke-width="0.8" stroke-linejoin="round"/>
<path d="M121.55,42.1 L123.9,40.33 L126.85,37.98 L129.2,37.98 L131.56,40.92 L130.38,43.27 L126.85,43.86 L123.9,45.04 L123.32,47.98 L121.55,48.57Z" fill="#36CCD0" stroke="#36CCD0" stroke-width="0.8" stroke-linejoin="round"/>
<path d="M141.56,37.39 L144.51,36.8 L148.04,38.57 L148.04,40.33 L144.51,40.92 L142.74,42.1 L141.56,39.74Z" fill="#36CCD0" stroke="#36CCD0" stroke-width="0.8" stroke-linejoin="round"/>
<ellipse cx="136.85" cy="44.63" rx="1.18" ry="0.77" fill="#36CCD0"/>
<ellipse cx="157.28" cy="42.27" rx="1.0" ry="0.77" fill="#36CCD0"/>
<ellipse cx="149.51" cy="49.75" rx="1.47" ry="1.18" fill="#36CCD0"/>
<path d="M150.39,51.51 L153.92,50.93 L154.51,52.46 L150.98,53.63Z" fill="#36CCD0" stroke="#36CCD0" stroke-width="0.8" stroke-linejoin="round"/>
<path d="M162.75,46.22 L164.52,43.86 L166.28,45.04 L165.11,48.57 L163.34,49.16Z" fill="#36CCD0" stroke="#36CCD0" stroke-width="0.8" stroke-linejoin="round"/>
<path d="M177.11,12.67 L179.82,11.49 L181.59,13.26 L181,15.96 L178.05,16.2Z" fill="#36CCD0" stroke="#36CCD0" stroke-width="0.8" stroke-linejoin="round"/>
<ellipse cx="183.65" cy="14.73" rx="0.88" ry="0.88" fill="#36CCD0"/>
<ellipse cx="193.83" cy="25.2" rx="0.71" ry="0.77" fill="#36CCD0"/>
<path d="M175.11,38.57 L176.88,37.62 L178.64,40.33 L177.47,42.33 L175.47,41.86Z" fill="#36CCD0" stroke="#36CCD0" stroke-width="0.8" stroke-linejoin="round"/>
<path d="M173.35,44.45 L176.88,43.27 L181,43.86 L183,46.22 L182.18,49.16 L178.64,49.75 L175.11,48.57 L173.58,46.81Z" fill="#36CCD0" stroke="#36CCD0" stroke-width="0.8" stroke-linejoin="round"/>
<ellipse cx="171.87" cy="37.39" rx="0.88" ry="1.18" fill="#36CCD0"/>
<path d="M180.41,58.34 L183.35,57.4 L185.12,59.17 L182.18,60.7Z" fill="#36CCD0" stroke="#36CCD0" stroke-width="0.8" stroke-linejoin="round"/>
<path d="M189.83,61.52 L192.77,61.17 L192.18,63.05 L190.06,63.29Z" fill="#36CCD0" stroke="#36CCD0" stroke-width="0.8" stroke-linejoin="round"/>
<path d="M190.42,77.41 L192.18,77.18 L192.53,79.77 L191,80.36Z" fill="#36CCD0" stroke="#36CCD0" stroke-width="0.8" stroke-linejoin="round"/>
<ellipse cx="213.08" cy="52.28" rx="0.88" ry="1.0" fill="#36CCD0"/>
<path d="M170.76,69.41 L172.4,69.76 L172.4,72.47 L170.99,72.12Z" fill="#A0E632" stroke="#A0E632" stroke-width="0.8" stroke-linejoin="round"/>
<ellipse cx="181.22" cy="120.58" rx="2.22" ry="1.56" fill="#A0E632"/>
<path d="M191.88,121.69 L192.99,119.03 L202.99,118.36 L214.11,117.69 L214.11,121.69Z" fill="#A0E632" stroke="#A0E632" stroke-width="0.8" stroke-linejoin="round"/>
</g>
<text class="lab" x="4.9" y="118.6">f) ORCHIDEE_CWRR</text>
<use href="#lines"/>
</g>
<rect x="0" y="0" width="216.1" height="122.9" fill="none" stroke="#000" stroke-width="2.3"/>
</g>
<g transform="translate(498.15,191.75)">
<path d="M-0.15,-6.3V0 M-0.15,122.9V129.20000000000002 M48.95,-6.3V0 M48.95,122.9V129.20000000000002 M98.05,-6.3V0 M98.05,122.9V129.20000000000002 M147.15,-6.3V0 M147.15,122.9V129.20000000000002 M196.25,-6.3V0 M196.25,122.9V129.20000000000002 M-6.6,0.1H0 M216.1,0.1H222.7 M-6.6,49.1H0 M216.1,49.1H222.7 M-6.6,98.1H0 M216.1,98.1H222.7" stroke="#444" stroke-width="0.9" fill="none"/>
<rect x="0" y="0" width="216.1" height="122.9" fill="#EEEEEE"/>
<g clip-path="url(#box)">
<use href="#land" fill="#C2DFC4"/>
<g clip-path="url(#landclip)">
<path d="M70.34,14.31 L73.37,13.7 L75.79,16.13 L73.37,18.55 L70.94,16.73Z" fill="#36CCD0" stroke="#36CCD0" stroke-width="0.8" stroke-linejoin="round"/>
<ellipse cx="71.37" cy="27.77" rx="1.03" ry="1.09" fill="#36CCD0"/>
<path d="M26.1,27.64 L29.73,26.43 L32.76,28.25 L33.97,30.67 L37.61,32.49 L41.25,34.31 L43.07,35.52 L44.88,37.95 L43.07,41.58 L40.64,41.58 L38.82,39.16 L35.19,39.16 L31.55,38.55 L29.73,36.73 L26.1,37.34 L23.07,38.55 L22.46,36.73 L27.31,35.52 L31.55,34.31 L29.73,31.28 L27.31,29.46Z" fill="#36CCD0" stroke="#36CCD0" stroke-width="0.8" stroke-linejoin="round"/>
<path d="M55.19,39.77 L60.03,39.16 L64.88,39.16 L69.73,36.73 L73.37,33.7 L76.4,33.7 L78.82,35.52 L81.25,37.95 L79.43,38.55 L77.61,37.34 L75.79,39.77 L79.43,40.37 L84.28,40.37 L84.88,44.61 L84.28,48.86 L80.64,50.07 L77,50.07 L73.97,49.46 L72.16,47.04 L70.34,44.61 L68.52,45.83 L64.88,47.64 L61.25,47.04 L58.22,44.61 L56.4,42.19Z" fill="#36CCD0" stroke="#36CCD0" stroke-width="0.8" stroke-linejoin="round"/>
<path d="M77,51.28 L79.43,50.07 L83.07,51.28 L84.28,54.92 L84.88,59.16 L83.07,62.8 L81.85,67.04 L79.43,68.25 L74.58,68.25 L73.97,63.4 L75.19,60.37 L77.61,57.95 L77,54.92Z" fill="#36CCD0" stroke="#36CCD0" stroke-width="0.8" stroke-linejoin="round"/>
<ellipse cx="73.67" cy="55.22" rx="0.91" ry="0.91" fill="#7FD6D0"/>
<path d="M85.49,45.83 L89.13,45.22 L93.97,45.83 L95.19,48.86 L95.19,52.49 L92.76,54.92 L89.13,56.73 L86.7,56.13 L85.49,51.89Z" fill="#36CCD0" stroke="#36CCD0" stroke-width="0.8" stroke-linejoin="round"/>
<path d="M92.16,41.58 L95.19,39.16 L97,40.37 L96.4,43.4 L93.37,44.01Z" fill="#36CCD0" stroke="#36CCD0" stroke-width="0.8" stroke-linejoin="round"/>
<path d="M97,47.04 L99.43,43.4 L102.46,40.98 L104.88,39.77 L107.31,40.37 L109.73,38.55 L109.13,35.52 L110.94,34.31 L113.37,37.34 L114.58,40.98 L113.37,44.01 L109.73,45.22 L106.1,45.22 L103.07,47.04 L101.25,50.07 L98.82,50.67Z" fill="#36CCD0" stroke="#36CCD0" stroke-width="0.8" stroke-linejoin="round"/>
<path d="M117,40.98 L120.03,41.58 L123.67,40.37 L126.1,37.95 L128.52,37.34 L130.94,40.37 L129.73,42.8 L126.1,43.4 L123.67,45.83 L121.25,48.86 L120.03,46.43 L118.22,44.61Z" fill="#36CCD0" stroke="#36CCD0" stroke-width="0.8" stroke-linejoin="round"/>
<path d="M51.55,69.46 L53.97,66.43 L57.61,67.04 L60.03,64.01 L62.46,64.61 L66.1,66.43 L72.16,67.64 L77,67.64 L80.64,68.86 L80.03,71.28 L74.58,71.89 L68.52,73.1 L62.46,75.52 L58.82,74.92 L54.58,73.1Z" fill="#36CCD0" stroke="#36CCD0" stroke-width="0.8" stroke-linejoin="round"/>
<path d="M63.67,69.46 L66.1,68.86 L67.91,71.28 L65.49,73.1 L63.67,71.89Z" fill="#00A0FF" stroke="#00A0FF" stroke-width="0.8" stroke-linejoin="round"/>
<path d="M92.52,67.4 L95.19,67.4 L95.79,69.46 L93.37,70.07Z" fill="#A0E632" stroke="#A0E632" stroke-width="0.8" stroke-linejoin="round"/>
<path d="M121.55,42.1 L123.9,40.33 L126.85,37.98 L129.2,37.98 L131.56,40.92 L130.38,43.27 L126.85,43.86 L123.9,45.04 L123.32,47.98 L121.55,48.57Z" fill="#36CCD0" stroke="#36CCD0" stroke-width="0.8" stroke-linejoin="round"/>
<path d="M141.56,37.39 L144.51,36.8 L148.04,38.57 L148.04,40.33 L144.51,40.92 L142.74,42.1 L141.56,39.74Z" fill="#36CCD0" stroke="#36CCD0" stroke-width="0.8" stroke-linejoin="round"/>
<ellipse cx="136.85" cy="44.63" rx="1.18" ry="0.77" fill="#36CCD0"/>
<ellipse cx="157.28" cy="42.27" rx="1.0" ry="0.77" fill="#36CCD0"/>
<ellipse cx="149.51" cy="49.75" rx="1.47" ry="1.18" fill="#36CCD0"/>
<path d="M150.39,51.51 L153.92,50.93 L154.51,52.46 L150.98,53.63Z" fill="#36CCD0" stroke="#36CCD0" stroke-width="0.8" stroke-linejoin="round"/>
<path d="M162.75,46.22 L164.52,43.86 L166.28,45.04 L165.11,48.57 L163.34,49.16Z" fill="#36CCD0" stroke="#36CCD0" stroke-width="0.8" stroke-linejoin="round"/>
<path d="M177.11,12.67 L179.82,11.49 L181.59,13.26 L181,15.96 L178.05,16.2Z" fill="#36CCD0" stroke="#36CCD0" stroke-width="0.8" stroke-linejoin="round"/>
<ellipse cx="183.65" cy="14.73" rx="0.88" ry="0.88" fill="#36CCD0"/>
<ellipse cx="193.83" cy="25.2" rx="0.71" ry="0.77" fill="#36CCD0"/>
<path d="M175.11,38.57 L176.88,37.62 L178.64,40.33 L177.47,42.33 L175.47,41.86Z" fill="#36CCD0" stroke="#36CCD0" stroke-width="0.8" stroke-linejoin="round"/>
<path d="M173.35,44.45 L176.88,43.27 L181,43.86 L183,46.22 L182.18,49.16 L178.64,49.75 L175.11,48.57 L173.58,46.81Z" fill="#36CCD0" stroke="#36CCD0" stroke-width="0.8" stroke-linejoin="round"/>
<ellipse cx="171.87" cy="37.39" rx="0.88" ry="1.18" fill="#36CCD0"/>
<path d="M180.41,58.34 L183.35,57.4 L185.12,59.17 L182.18,60.7Z" fill="#36CCD0" stroke="#36CCD0" stroke-width="0.8" stroke-linejoin="round"/>
<path d="M189.83,61.52 L192.77,61.17 L192.18,63.05 L190.06,63.29Z" fill="#36CCD0" stroke="#36CCD0" stroke-width="0.8" stroke-linejoin="round"/>
<path d="M190.42,77.41 L192.18,77.18 L192.53,79.77 L191,80.36Z" fill="#36CCD0" stroke="#36CCD0" stroke-width="0.8" stroke-linejoin="round"/>
<ellipse cx="213.08" cy="52.28" rx="0.88" ry="1.0" fill="#36CCD0"/>
<path d="M170.76,69.41 L172.4,69.76 L172.4,72.47 L170.99,72.12Z" fill="#A0E632" stroke="#A0E632" stroke-width="0.8" stroke-linejoin="round"/>
<ellipse cx="181.52" cy="120.58" rx="2.22" ry="1.56" fill="#A0E632"/>
<path d="M192.18,121.69 L193.29,119.03 L203.29,118.36 L214.41,117.69 L214.41,121.69Z" fill="#A0E632" stroke="#A0E632" stroke-width="0.8" stroke-linejoin="round"/>
<ellipse cx="63.29" cy="33.92" rx="1.11" ry="1.11" fill="#36CCD0"/>
</g>
<text class="lab" x="4.9" y="118.6">g) ORCHIDEE_CWRR_WILT</text>
<use href="#lines"/>
</g>
<rect x="0" y="0" width="216.1" height="122.9" fill="none" stroke="#000" stroke-width="2.3"/>
</g>
<g transform="translate(724.85,191.75)">
<path d="M-0.15,-6.3V0 M-0.15,122.9V129.20000000000002 M48.95,-6.3V0 M48.95,122.9V129.20000000000002 M98.05,-6.3V0 M98.05,122.9V129.20000000000002 M147.15,-6.3V0 M147.15,122.9V129.20000000000002 M196.25,-6.3V0 M196.25,122.9V129.20000000000002 M-6.6,0.1H0 M216.1,0.1H222.7 M-6.6,49.1H0 M216.1,49.1H222.7 M-6.6,98.1H0 M216.1,98.1H222.7" stroke="#444" stroke-width="0.9" fill="none"/>
<rect x="0" y="0" width="216.1" height="122.9" fill="#EEEEEE"/>
<g clip-path="url(#box)">
<use href="#land" fill="#C2DFC4"/>
<g clip-path="url(#landclip)">
<path d="M49.15,63.92 L53.59,62.81 L63.59,68.36 L71.37,71.69 L65.82,73.25 L61.37,75.47 L54.71,71.69Z" fill="#36CCD0" stroke="#36CCD0" stroke-width="0.8" stroke-linejoin="round"/>
<path d="M53.59,69.47 L57.37,67.92 L61.82,70.14 L61.37,73.25 L56.48,72.81Z" fill="#00A0FF" stroke="#00A0FF" stroke-width="0.8" stroke-linejoin="round"/>
<ellipse cx="32.48" cy="16.69" rx="2.22" ry="1.67" fill="#36CCD0"/>
<ellipse cx="43.04" cy="26.69" rx="3.89" ry="1.67" fill="#36CCD0"/>
<path d="M174.06,121.66 L177.41,111.97 L180.76,105.26 L185.24,100.79 L186.35,94.08 L184.49,91.85 L180.76,88.12 L179.27,85.88 L181.51,85.88 L187.47,91.1 L190.45,94.83 L192.69,92.59 L196.42,91.1 L200.14,87.37 L203.87,86.63 L206.85,88.86 L207.6,92.59 L210.58,94.08 L211.32,98.55 L209.83,102.28 L207.6,106.01 L211.32,107.5 L214.68,108.99 L214.68,111.97 L211.32,111.97 L209.83,114.95 L212.81,118.68 L214.68,119.42 L214.68,121.66Z" fill="#A0E632" stroke="#A0E632" stroke-width="0.8" stroke-linejoin="round"/>
<path d="M190.45,106.75 L192.32,105.26 L194.93,108.99 L198.28,112.34 L196.42,113.46 L193.06,112.34 L190.83,108.99Z" fill="#C2DFC4" stroke="#C2DFC4" stroke-width="0.8" stroke-linejoin="round"/>
<path d="M172.19,100.05 L172.94,94.08 L175.17,91.47 L177.78,91.85 L178.16,94.45 L176.29,97.06 L175.92,100.05 L176.67,103.77 L179.27,104.52 L183,102.28 L180.76,105.26 L177.78,108.99 L175.17,106.01 L173.31,103.77Z" fill="#A0E632" stroke="#A0E632" stroke-width="0.8" stroke-linejoin="round"/>
<path d="M159.15,103.77 L163.62,103.4 L164.74,106.01 L166.23,108.99 L163.62,110.11 L161.39,107.87 L159.15,107.87Z" fill="#A0E632" stroke="#A0E632" stroke-width="0.8" stroke-linejoin="round"/>
<path d="M169.58,81.04 L172.57,81.41 L176.67,78.43 L177.41,80.29 L175.92,83.27 L178.9,84.77 L177.78,85.51 L174.06,84.39 L172.19,82.16 L169.58,81.78Z" fill="#A0E632" stroke="#A0E632" stroke-width="0.8" stroke-linejoin="round"/>
<path d="M190.45,118.68 L193.44,117.19 L198.65,117.93 L201.63,115.32 L203.87,117.93 L206.85,119.42 L209.09,120.54 L209.09,121.66 L191.95,121.66Z" fill="#E6DC32" stroke="#E6DC32" stroke-width="0.8" stroke-linejoin="round"/>
<ellipse cx="199.03" cy="96.13" rx="1.12" ry="0.93" fill="#E6DC32"/>
<ellipse cx="205.55" cy="101.16" rx="0.56" ry="0.75" fill="#E6DC32"/>
<ellipse cx="180.39" cy="115.88" rx="1.12" ry="0.56" fill="#E6DC32"/>
<ellipse cx="183.75" cy="118.12" rx="0.75" ry="0.56" fill="#E6DC32"/>
<ellipse cx="178.57" cy="112.72" rx="0.41" ry="2.24" fill="#E6AF2D"/>
<path d="M182.26,82.16 L185.24,81.41 L189.34,81.78 L191.57,83.65 L191.95,86.26 L188.96,86.78 L185.98,85.88 L183.37,84.77Z" fill="#36CCD0" stroke="#36CCD0" stroke-width="0.8" stroke-linejoin="round"/>
<ellipse cx="186.35" cy="83.46" rx="1.12" ry="0.93" fill="#00A0FF"/>
<path d="M209.83,85.14 L212.07,82.16 L214.68,81.78 L214.68,92.59 L212.81,89.61 L210.58,88.86Z" fill="#36CCD0" stroke="#36CCD0" stroke-width="0.8" stroke-linejoin="round"/>
</g>
<text class="lab" x="4.9" y="118.6">h) SETHYS</text>
<use href="#lines"/>
</g>
<rect x="0" y="0" width="216.1" height="122.9" fill="none" stroke="#000" stroke-width="2.3"/>
</g>
<g transform="translate(44.75,326.25)">
<path d="M-0.15,-6.3V0 M-0.15,122.9V129.20000000000002 M48.95,-6.3V0 M48.95,122.9V129.20000000000002 M98.05,-6.3V0 M98.05,122.9V129.20000000000002 M147.15,-6.3V0 M147.15,122.9V129.20000000000002 M196.25,-6.3V0 M196.25,122.9V129.20000000000002 M-6.6,0.1H0 M216.1,0.1H222.7 M-6.6,49.1H0 M216.1,49.1H222.7 M-6.6,98.1H0 M216.1,98.1H222.7" stroke="#444" stroke-width="0.9" fill="none"/>
<rect x="0" y="0" width="216.1" height="122.9" fill="#EEEEEE"/>
<path d="M0,49H216.1 M0,98H216.1" stroke="#E4E4E4" stroke-width="0.8" fill="none"/>
<g clip-path="url(#box)">
<use href="#land" fill="#C2DFC4"/>
<g clip-path="url(#landclip)">
<path d="M61.58,68.97 L67.14,67.42 L76.03,68.31 L74.92,71.19 L64.92,72.31 L61.58,74.08Z" fill="#36CCD0" stroke="#36CCD0" stroke-width="0.8" stroke-linejoin="round"/>
<ellipse cx="54.92" cy="72.86" rx="2.22" ry="1.67" fill="#36CCD0"/>
<ellipse cx="78.25" cy="63.19" rx="1.11" ry="1.33" fill="#36CCD0"/>
<path d="M188.25,95.64 L193.81,91.19 L201.58,85.64 L207.14,84.53 L210.47,90.08 L207.14,95.64 L203.81,101.19 L197.14,105.19 L190.47,102.31Z" fill="#A0E632" stroke="#A0E632" stroke-width="0.8" stroke-linejoin="round"/>
<ellipse cx="160.47" cy="106.19" rx="2.22" ry="1.67" fill="#A0E632"/>
<ellipse cx="174.92" cy="93.64" rx="1.11" ry="0.89" fill="#A0E632"/>
<ellipse cx="169.36" cy="117.86" rx="1.11" ry="1.11" fill="#A0E632"/>
<ellipse cx="196.03" cy="120.97" rx="1.11" ry="0.67" fill="#A0E632"/>
</g>
<text class="lab" x="4.9" y="118.6">i) SWAP</text>
<use href="#lines"/>
</g>
<rect x="0" y="0" width="216.1" height="122.9" fill="none" stroke="#000" stroke-width="2.3"/>
</g>
<g transform="translate(271.45,326.25)">
<path d="M-0.15,-6.3V0 M-0.15,122.9V129.20000000000002 M48.95,-6.3V0 M48.95,122.9V129.20000000000002 M98.05,-6.3V0 M98.05,122.9V129.20000000000002 M147.15,-6.3V0 M147.15,122.9V129.20000000000002 M196.25,-6.3V0 M196.25,122.9V129.20000000000002 M-6.6,0.1H0 M216.1,0.1H222.7 M-6.6,49.1H0 M216.1,49.1H222.7 M-6.6,98.1H0 M216.1,98.1H222.7" stroke="#444" stroke-width="0.9" fill="none"/>
<rect x="0" y="0" width="216.1" height="122.9" fill="#EEEEEE"/>
<path d="M0,49H216.1 M0,98H216.1" stroke="#E4E4E4" stroke-width="0.8" fill="none"/>
<g clip-path="url(#box)">
<use href="#land" fill="#C2DFC4"/>
<g clip-path="url(#landclip)">
<path d="M47.44,64.53 L52.99,63.86 L59.66,67.86 L67.44,71.19 L61.88,73.86 L55.22,72.31 L48.55,67.86Z" fill="#36CCD0" stroke="#36CCD0" stroke-width="0.8" stroke-linejoin="round"/>
<ellipse cx="30.22" cy="31.19" rx="1.67" ry="1.11" fill="#36CCD0"/>
<path d="M162.99,30.08 L166.33,29.64 L170.77,34.53 L170.11,38.97 L166.33,37.86 L163.44,34.08Z" fill="#AAAAAA" stroke="#AAAAAA" stroke-width="0.8" stroke-linejoin="round"/>
<ellipse cx="197.44" cy="98.42" rx="2.22" ry="2.78" fill="#A0E632"/>
<ellipse cx="189.66" cy="108.97" rx="3.33" ry="4.44" fill="#A0E632"/>
<ellipse cx="180.22" cy="104.53" rx="1.67" ry="2.22" fill="#A0E632"/>
<ellipse cx="205.77" cy="103.97" rx="1.67" ry="1.67" fill="#A0E632"/>
<ellipse cx="211.88" cy="109.53" rx="2.22" ry="2.78" fill="#A0E632"/>
<ellipse cx="180.22" cy="117.31" rx="1.67" ry="1.67" fill="#A0E632"/>
<ellipse cx="185.22" cy="92.31" rx="1.11" ry="1.11" fill="#A0E632"/>
<path d="M191.88,120.08 L192.99,115.64 L198.55,113.42 L207.44,114.08 L211.88,117.86 L211.88,120.75Z" fill="#A0E632" stroke="#A0E632" stroke-width="0.8" stroke-linejoin="round"/>
</g>
<text class="lab" x="4.9" y="118.6">j) SSIB1</text>
<use href="#lines"/>
</g>
<rect x="0" y="0" width="216.1" height="122.9" fill="none" stroke="#000" stroke-width="2.3"/>
</g>
<g transform="translate(498.15,326.25)">
<path d="M-0.15,-6.3V0 M-0.15,122.9V129.20000000000002 M48.95,-6.3V0 M48.95,122.9V129.20000000000002 M98.05,-6.3V0 M98.05,122.9V129.20000000000002 M147.15,-6.3V0 M147.15,122.9V129.20000000000002 M196.25,-6.3V0 M196.25,122.9V129.20000000000002 M-6.6,0.1H0 M216.1,0.1H222.7 M-6.6,49.1H0 M216.1,49.1H222.7 M-6.6,98.1H0 M216.1,98.1H222.7" stroke="#444" stroke-width="0.9" fill="none"/>
<rect x="0" y="0" width="216.1" height="122.9" fill="#EEEEEE"/>
<path d="M0,49H216.1 M0,98H216.1" stroke="#E4E4E4" stroke-width="0.8" fill="none"/>
<g clip-path="url(#box)">
<use href="#land" fill="#C2DFC4"/>
<g clip-path="url(#landclip)">
<path d="M22.18,26.75 L28.85,26.08 L37.74,27.86 L42.18,33.42 L41.07,36.75 L32.18,36.31 L24.41,33.42Z" fill="#36CCD0" stroke="#36CCD0" stroke-width="0.8" stroke-linejoin="round"/>
<path d="M39.96,28.97 L43.29,27.86 L46.63,30.53 L52.18,31.19 L53.29,34.53 L46.63,35.64 L42.18,33.42Z" fill="#36CCD0" stroke="#36CCD0" stroke-width="0.8" stroke-linejoin="round"/>
<path d="M54.41,34.53 L63.29,32.31 L69.96,35.64 L77.74,32.31 L76.63,37.86 L71.07,44.53 L65.52,46.75 L58.85,41.19 L55.52,37.86Z" fill="#36CCD0" stroke="#36CCD0" stroke-width="0.8" stroke-linejoin="round"/>
<path d="M73.29,41.19 L78.85,36.75 L87.74,36.31 L98.85,36.75 L109.96,34.53 L116.63,36.31 L122.18,37.86 L115.52,41.19 L108.85,42.31 L101.07,44.53 L87.74,44.53 L76.63,47.42 L72.18,45.64Z" fill="#36CCD0" stroke="#36CCD0" stroke-width="0.8" stroke-linejoin="round"/>
<path d="M84.41,45.64 L94.41,45.19 L93.29,51.19 L87.74,52.75 L85.07,50.08Z" fill="#36CCD0" stroke="#36CCD0" stroke-width="0.8" stroke-linejoin="round"/>
<path d="M80.63,53.42 L85.96,54.97 L84.41,61.19 L81.52,62.31Z" fill="#36CCD0" stroke="#36CCD0" stroke-width="0.8" stroke-linejoin="round"/>
<path d="M125.96,34.97 L132.18,33.42 L137.74,35.64 L145.52,36.75 L152.18,40.08 L157.74,41.86 L154.41,45.19 L145.52,43.42 L136.63,42.31 L128.85,40.08Z" fill="#36CCD0" stroke="#36CCD0" stroke-width="0.8" stroke-linejoin="round"/>
<ellipse cx="152.18" cy="50.42" rx="3.33" ry="3.0" fill="#36CCD0"/>
<ellipse cx="139.41" cy="29.31" rx="2.78" ry="1.89" fill="#36CCD0"/>
<path d="M165.52,43.42 L171.07,42.31 L174.41,47.86 L167.74,50.08Z" fill="#36CCD0" stroke="#36CCD0" stroke-width="0.8" stroke-linejoin="round"/>
<path d="M173.29,38.97 L178.85,38.53 L181.07,41.19 L185.52,42.31 L183.29,44.53 L179.96,48.31 L174.41,47.86Z" fill="#36CCD0" stroke="#36CCD0" stroke-width="0.8" stroke-linejoin="round"/>
<path d="M51.07,68.97 L57.74,66.75 L63.29,68.31 L72.18,68.97 L75.52,71.19 L67.74,73.42 L62.18,75.42 L54.41,72.31Z" fill="#36CCD0" stroke="#36CCD0" stroke-width="0.8" stroke-linejoin="round"/>
<ellipse cx="76.29" cy="62.31" rx="0.78" ry="1.11" fill="#36CCD0"/>
<path d="M174.41,121.19 L176.63,116.75 L183.29,114.53 L188.85,111.19 L189.96,114.53 L198.85,115.64 L209.96,114.53 L211.07,107.86 L214.41,107.86 L214.41,121.19Z" fill="#A0E632" stroke="#A0E632" stroke-width="0.8" stroke-linejoin="round"/>
<ellipse cx="198.29" cy="120.86" rx="2.78" ry="0.78" fill="#E6DC32"/>
</g>
<text class="lab" x="4.9" y="118.6">k) JULES</text>
<use href="#lines"/>
</g>
<rect x="0" y="0" width="216.1" height="122.9" fill="none" stroke="#000" stroke-width="2.3"/>
</g>
<g transform="translate(724.85,326.25)">
<path d="M-0.15,-6.3V0 M-0.15,122.9V129.20000000000002 M48.95,-6.3V0 M48.95,122.9V129.20000000000002 M98.05,-6.3V0 M98.05,122.9V129.20000000000002 M147.15,-6.3V0 M147.15,122.9V129.20000000000002 M196.25,-6.3V0 M196.25,122.9V129.20000000000002 M-6.6,0.1H0 M216.1,0.1H222.7 M-6.6,49.1H0 M216.1,49.1H222.7 M-6.6,98.1H0 M216.1,98.1H222.7" stroke="#444" stroke-width="0.9" fill="none"/>
<rect x="0" y="0" width="216.1" height="122.9" fill="#EEEEEE"/>
<path d="M0,49H216.1 M0,98H216.1" stroke="#E4E4E4" stroke-width="0.8" fill="none"/>
<g clip-path="url(#box)">
<use href="#land" fill="#C2DFC4"/>
<g clip-path="url(#landclip)">
<path d="M50.26,67.86 L56.93,66.75 L63.59,68.31 L73.59,68.97 L74.71,71.19 L66.93,72.75 L62.48,75.42 L54.71,72.75Z" fill="#36CCD0" stroke="#36CCD0" stroke-width="0.8" stroke-linejoin="round"/>
<ellipse cx="186.48" cy="83.86" rx="1.11" ry="0.89" fill="#36CCD0"/>
<ellipse cx="76.59" cy="64.08" rx="0.78" ry="0.67" fill="#36CCD0"/>
<ellipse cx="203.59" cy="89.53" rx="2.22" ry="1.67" fill="#A0E632"/>
<path d="M194.71,98.97 L198.04,95.64 L204.71,96.75 L206.26,100.08 L200.26,102.31 L195.82,101.19Z" fill="#A0E632" stroke="#A0E632" stroke-width="0.8" stroke-linejoin="round"/>
<ellipse cx="212.48" cy="109.53" rx="2.22" ry="1.67" fill="#A0E632"/>
<ellipse cx="187.48" cy="105.64" rx="1.67" ry="1.11" fill="#A0E632"/>
<path d="M175.82,121.19 L178.04,114.53 L183.59,112.75 L190.26,113.42 L199.15,115.64 L212.48,116.75 L214.71,121.19Z" fill="#A0E632" stroke="#A0E632" stroke-width="0.8" stroke-linejoin="round"/>
</g>
<text class="lab" x="4.9" y="118.6">l) AVG</text>
<use href="#lines"/>
</g>
<rect x="0" y="0" width="216.1" height="122.9" fill="none" stroke="#000" stroke-width="2.3"/>
</g>
<text class="tk" x="31.2" y="62.85" text-anchor="end">20<tspan dx="0.8" dy="-1.9" style="font-size:9px;stroke-width:0.35px">&#730;</tspan></text>
<text class="tk" x="31.2" y="111.85" text-anchor="end">10<tspan dx="0.8" dy="-1.9" style="font-size:9px;stroke-width:0.35px">&#730;</tspan></text>
<text class="tk" x="31.2" y="160.85" text-anchor="end">0<tspan dx="0.8" dy="-1.9" style="font-size:9px;stroke-width:0.35px">&#730;</tspan></text>
<text class="tk" x="31.2" y="197.35" text-anchor="end">20<tspan dx="0.8" dy="-1.9" style="font-size:9px;stroke-width:0.35px">&#730;</tspan></text>
<text class="tk" x="31.2" y="246.35" text-anchor="end">10<tspan dx="0.8" dy="-1.9" style="font-size:9px;stroke-width:0.35px">&#730;</tspan></text>
<text class="tk" x="31.2" y="295.35" text-anchor="end">0<tspan dx="0.8" dy="-1.9" style="font-size:9px;stroke-width:0.35px">&#730;</tspan></text>
<text class="tk" x="31.2" y="331.85" text-anchor="end">20<tspan dx="0.8" dy="-1.9" style="font-size:9px;stroke-width:0.35px">&#730;</tspan></text>
<text class="tk" x="31.2" y="380.85" text-anchor="end">10<tspan dx="0.8" dy="-1.9" style="font-size:9px;stroke-width:0.35px">&#730;</tspan></text>
<text class="tk" x="31.2" y="429.85" text-anchor="end">0<tspan dx="0.8" dy="-1.9" style="font-size:9px;stroke-width:0.35px">&#730;</tspan></text>
<text class="tk" x="44.45" y="473.7" text-anchor="middle">340<tspan dx="0.8" dy="-1.9" style="font-size:9px;stroke-width:0.35px">&#730;</tspan></text>
<text class="tk" x="93.55" y="473.7" text-anchor="middle">350<tspan dx="0.8" dy="-1.9" style="font-size:9px;stroke-width:0.35px">&#730;</tspan></text>
<text class="tk" x="142.65" y="473.7" text-anchor="middle">0<tspan dx="0.8" dy="-1.9" style="font-size:9px;stroke-width:0.35px">&#730;</tspan></text>
<text class="tk" x="191.75" y="473.7" text-anchor="middle">10<tspan dx="0.8" dy="-1.9" style="font-size:9px;stroke-width:0.35px">&#730;</tspan></text>
<text class="tk" x="240.85" y="473.7" text-anchor="middle">20<tspan dx="0.8" dy="-1.9" style="font-size:9px;stroke-width:0.35px">&#730;</tspan></text>
<text class="tk" x="271.15" y="473.7" text-anchor="middle">340<tspan dx="0.8" dy="-1.9" style="font-size:9px;stroke-width:0.35px">&#730;</tspan></text>
<text class="tk" x="320.25" y="473.7" text-anchor="middle">350<tspan dx="0.8" dy="-1.9" style="font-size:9px;stroke-width:0.35px">&#730;</tspan></text>
<text class="tk" x="369.35" y="473.7" text-anchor="middle">0<tspan dx="0.8" dy="-1.9" style="font-size:9px;stroke-width:0.35px">&#730;</tspan></text>
<text class="tk" x="418.45" y="473.7" text-anchor="middle">10<tspan dx="0.8" dy="-1.9" style="font-size:9px;stroke-width:0.35px">&#730;</tspan></text>
<text class="tk" x="467.55" y="473.7" text-anchor="middle">20<tspan dx="0.8" dy="-1.9" style="font-size:9px;stroke-width:0.35px">&#730;</tspan></text>
<text class="tk" x="497.85" y="473.7" text-anchor="middle">340<tspan dx="0.8" dy="-1.9" style="font-size:9px;stroke-width:0.35px">&#730;</tspan></text>
<text class="tk" x="546.95" y="473.7" text-anchor="middle">350<tspan dx="0.8" dy="-1.9" style="font-size:9px;stroke-width:0.35px">&#730;</tspan></text>
<text class="tk" x="596.05" y="473.7" text-anchor="middle">0<tspan dx="0.8" dy="-1.9" style="font-size:9px;stroke-width:0.35px">&#730;</tspan></text>
<text class="tk" x="645.15" y="473.7" text-anchor="middle">10<tspan dx="0.8" dy="-1.9" style="font-size:9px;stroke-width:0.35px">&#730;</tspan></text>
<text class="tk" x="694.25" y="473.7" text-anchor="middle">20<tspan dx="0.8" dy="-1.9" style="font-size:9px;stroke-width:0.35px">&#730;</tspan></text>
<text class="tk" x="724.55" y="473.7" text-anchor="middle">340<tspan dx="0.8" dy="-1.9" style="font-size:9px;stroke-width:0.35px">&#730;</tspan></text>
<text class="tk" x="773.65" y="473.7" text-anchor="middle">350<tspan dx="0.8" dy="-1.9" style="font-size:9px;stroke-width:0.35px">&#730;</tspan></text>
<text class="tk" x="822.75" y="473.7" text-anchor="middle">0<tspan dx="0.8" dy="-1.9" style="font-size:9px;stroke-width:0.35px">&#730;</tspan></text>
<text class="tk" x="871.85" y="473.7" text-anchor="middle">10<tspan dx="0.8" dy="-1.9" style="font-size:9px;stroke-width:0.35px">&#730;</tspan></text>
<text class="tk" x="920.95" y="473.7" text-anchor="middle">20<tspan dx="0.8" dy="-1.9" style="font-size:9px;stroke-width:0.35px">&#730;</tspan></text>
<rect x="272.60" y="494.3" width="27.59" height="17.7" fill="#B22222"/>
<rect x="299.89" y="494.3" width="27.59" height="17.7" fill="#E00000"/>
<rect x="327.18" y="494.3" width="27.59" height="17.7" fill="#FF4040"/>
<rect x="354.47" y="494.3" width="27.59" height="17.7" fill="#F08228"/>
<rect x="381.76" y="494.3" width="27.59" height="17.7" fill="#E6AF2D"/>
<rect x="409.05" y="494.3" width="27.59" height="17.7" fill="#E6DC32"/>
<rect x="436.34" y="494.3" width="27.59" height="17.7" fill="#A0E632"/>
<rect x="463.63" y="494.3" width="27.59" height="17.7" fill="#BEDCBE"/>
<rect x="490.92" y="494.3" width="27.59" height="17.7" fill="#32C8C8"/>
<rect x="518.21" y="494.3" width="27.59" height="17.7" fill="#00A0FF"/>
<rect x="545.50" y="494.3" width="27.59" height="17.7" fill="#2832FF"/>
<rect x="572.79" y="494.3" width="27.59" height="17.7" fill="#8200DC"/>
<rect x="600.08" y="494.3" width="27.59" height="17.7" fill="#A000C8"/>
<rect x="627.37" y="494.3" width="27.59" height="17.7" fill="#C800A0"/>
<rect x="654.66" y="494.3" width="27.59" height="17.7" fill="#C83C9C"/>
<rect x="681.95" y="494.3" width="27.59" height="17.7" fill="#C8A0C8"/>
<path d="M272.60,494.3V519.0 M299.89,494.3V519.0 M327.18,494.3V519.0 M354.47,494.3V519.0 M381.76,494.3V519.0 M409.05,494.3V519.0 M436.34,494.3V519.0 M463.63,494.3V519.0 M490.92,494.3V519.0 M518.21,494.3V519.0 M545.50,494.3V519.0 M572.79,494.3V519.0 M600.08,494.3V519.0 M627.37,494.3V519.0 M654.66,494.3V519.0 M681.95,494.3V519.0 M709.24,494.3V519.0" stroke="#555" stroke-width="0.9" fill="none"/>
<rect x="272.6" y="494.3" width="436.64" height="17.7" fill="none" stroke="#000" stroke-width="2.4" stroke-linejoin="round"/>
<text class="cb" x="272.60" y="535.2" text-anchor="middle">-4.5</text>
<text class="cb" x="299.89" y="535.2" text-anchor="middle">-3.9</text>
<text class="cb" x="327.18" y="535.2" text-anchor="middle">-3.3</text>
<text class="cb" x="354.47" y="535.2" text-anchor="middle">-2.7</text>
<text class="cb" x="381.76" y="535.2" text-anchor="middle">-2.1</text>
<text class="cb" x="409.05" y="535.2" text-anchor="middle">-1.5</text>
<text class="cb" x="436.34" y="535.2" text-anchor="middle">-0.9</text>
<text class="cb" x="463.63" y="535.2" text-anchor="middle">-0.3</text>
<text class="cb" x="490.92" y="535.2" text-anchor="middle">0.3</text>
<text class="cb" x="518.21" y="535.2" text-anchor="middle">0.9</text>
<text class="cb" x="545.50" y="535.2" text-anchor="middle">1.5</text>
<text class="cb" x="572.79" y="535.2" text-anchor="middle">2.1</text>
<text class="cb" x="600.08" y="535.2" text-anchor="middle">2.7</text>
<text class="cb" x="627.37" y="535.2" text-anchor="middle">3.3</text>
<text class="cb" x="654.66" y="535.2" text-anchor="middle">3.9</text>
<text class="cb" x="681.95" y="535.2" text-anchor="middle">4.5</text>
<text class="cb" x="709.24" y="535.2" text-anchor="middle">5.1</text>
</svg></div></body></html>
